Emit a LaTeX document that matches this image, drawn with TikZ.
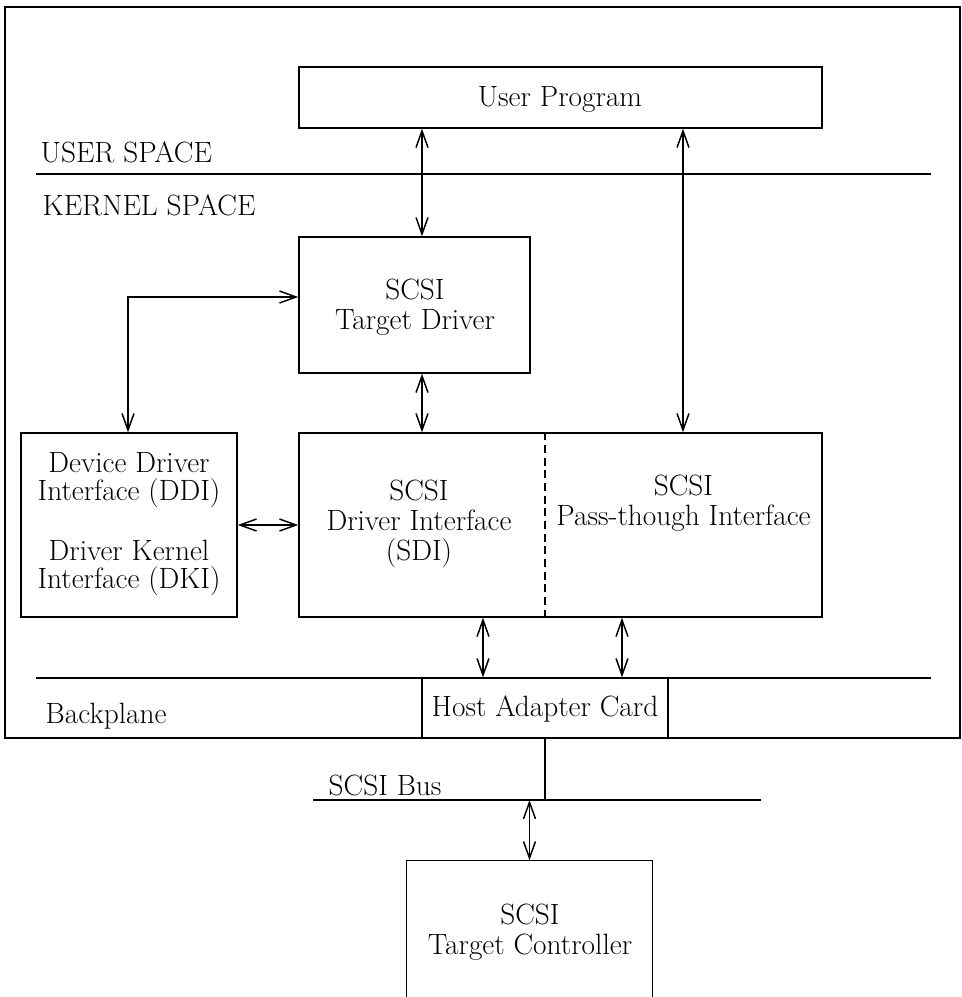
\documentclass[tikz,border=0pt]{standalone}
\usetikzlibrary{arrows.meta,fit}
\begin{document}
\begin{tikzpicture}[x=0.75pt,y=-0.75pt,line width=1.1pt,
  lbl/.style={font=\fontsize{22pt}{22.5pt}\selectfont, align=center, inner sep=0pt},
  boxnode/.style={draw, inner sep=0pt},
  dbl/.style={{Straight Barb[length=12.5pt,width=9pt]}-{Straight Barb[length=12.5pt,width=9pt]}},
  sepline/.style={line width=1.1pt}]
\useasboundingbox (0,0) rectangle (962,997);
% outer frame
\draw (5,7) rectangle (960,738);
% separator lines
\coordinate (ukL) at (36,174); \coordinate (ukR) at (931,174);
\draw[sepline] (ukL) -- (ukR);
\coordinate (bpL) at (36,678); \coordinate (bpR) at (931,678);
\draw[sepline] (bpL) -- (bpR);
\coordinate (busL) at (313,800); \coordinate (busR) at (761,800);
\draw[sepline] (busL) -- (busR);
% corner coordinates
\coordinate (up1) at (299,67);  \coordinate (up2) at (822,128);
\coordinate (td1) at (299,237); \coordinate (td2) at (530,373);
\coordinate (dd1) at (21,433);  \coordinate (dd2) at (237,617);
\coordinate (bg1) at (299,433); \coordinate (bg2) at (822,617);
\coordinate (ha1) at (422,678); \coordinate (ha2) at (668,738);
\coordinate (tc1) at (407,861); \coordinate (tc2) at (652,997);
% boxes
\node[boxnode, fit=(up1)(up2)] (up) {};
\node[boxnode, fit=(td1)(td2)] (td) {};
\node[boxnode, fit=(dd1)(dd2)] (ddi) {};
\node[boxnode, fit=(bg1)(bg2)] (big) {};
\node[boxnode, fill=white, fit=(ha1)(ha2)] (hac) {};
\node[boxnode, draw=none, fit=(tc1)(tc2)] (tc) {};
\draw (tc.south west) -- (tc.north west) -- (tc.north east) -- (tc.south east);
% dashed divider
\coordinate (dv) at (545,0);
\draw[dash pattern=on 6pt off 3.5pt] (big.north -| dv) -- (big.south -| dv);
% box texts
\node[lbl] (upT) at (560,99) {User Program};
\node[lbl] (tdT) at (415,307) {SCSI\\Target Driver};
\node[lbl, font=\fontsize{22pt}{21pt}\selectfont] (ddiT) at (129,524) {Device Driver\\Interface (DDI)\\[24.5pt]Driver Kernel\\Interface (DKI)};
\node[lbl] (sdi) at (419,524) {SCSI\\Driver Interface\\(SDI)};
\node[lbl] (pt) at (683.5,503) {SCSI\\Pass-though Interface};
\node[lbl] (hacT) at (545,709) {Host Adapter Card};
\node[lbl] (tcT) at (530,932) {SCSI\\Target Controller};
% labels
\node[lbl, anchor=base west] (us) at (40,162) {USER SPACE};
\node[lbl, anchor=base west] (ks) at (42,215) {KERNEL SPACE};
\node[lbl, anchor=base west] (bp) at (45,723) {Backplane};
\node[lbl, anchor=base west] (sb) at (328,795) {SCSI Bus};
% connectors
\coordinate (xa) at (422,0);
\coordinate (xb) at (683,0);
\coordinate (xc) at (483,0);
\coordinate (xd) at (622,0);
\coordinate (bend) at (128,297);
\draw[dbl] (up.south -| xa) -- (td.north -| xa);
\draw[dbl] (up.south -| xb) -- (big.north -| xb);
\draw[dbl] (td.south -| xa) -- (big.north -| xa);
\draw[dbl] (ddi.north -| bend) -- (bend) -- (td.west |- bend);
\draw[dbl] (ddi.east) -- (big.west);
\draw[dbl] (big.south -| xc) -- (hac.north -| xc);
\draw[dbl] (big.south -| xd) -- (hac.north -| xd);
\draw (hac.south) -- (hac.south |- busL);
\draw[dbl] (busL -| tc.north) -- (tc.north);
\end{tikzpicture}
\end{document}
